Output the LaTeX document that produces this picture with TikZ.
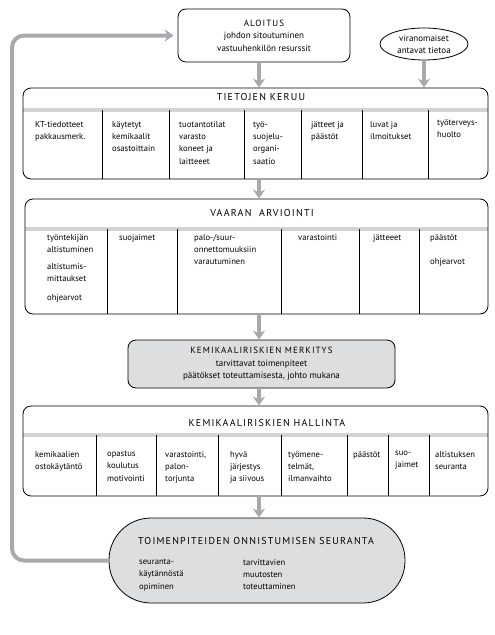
\documentclass[tikz,border=0pt]{standalone}
\usepackage{fontspec}
\setmainfont{PT Sans}
\newfontfamily\titlefont[LetterSpace=12]{PT Sans}
\usetikzlibrary{arrows.meta,shapes.geometric}
\definecolor{flowgray}{RGB}{167,169,172}
\definecolor{bargray}{RGB}{209,211,212}
\definecolor{boxgray}{RGB}{221,222,223}

\begin{document}
\begin{tikzpicture}
    [
        x=1pt, y=-1pt,
        frame/.style = {draw, shape=rectangle, rounded corners=8pt, line width=0.8pt, font=\fontsize{9}{12.5}\selectfont, align=center},
        oval/.style = {draw, shape=ellipse, line width=0.8pt, inner sep=0pt, font=\fontsize{9}{12}\selectfont, align=center},
        head/.style = {font=\fontsize{10}{12}\titlefont, inner sep=0pt},
        cell/.style = {anchor=north west, align=left, inner sep=0pt, font=\fontsize{8.6}{12.3}\selectfont},
        flow/.style = {draw=flowgray, line width=4pt, -{Stealth[length=9pt, width=12pt, inset=3pt]}},
        bar/.style = {draw=bargray, line width=4pt},
        rule/.style = {draw, line width=0.8pt},
    ]

    \useasboundingbox (0,0) rectangle (495,635);

    \coordinate (spine) at (259,0);
    \coordinate (loop) at (12,0);

    \node[frame, minimum width=172pt, minimum height=53pt] (aloitus) at (264,35.5)
        {{\titlefont ALOITUS}\\johdon sitoutuminen\\vastuuhenkilön resurssit};
    \node[oval, minimum width=88pt, minimum height=32pt] (viranomaiset) at (424,44)
        {viranomaiset\\antavat tietoa};

    \draw[bar] (23,110) -- (488,110);
    \node[frame, minimum width=465pt, minimum height=91pt] (keruu) at (255.5,133.5) {};
    \node[head] (keruutitle) at (261,97) {TIETOJEN KERUU};
    \draw[rule] (102,110) -- (102,179) (169,110) -- (169,179) (244,110) -- (244,179)
        (301,110) -- (301,179) (362,110) -- (362,179) (428,110) -- (428,179);
    \node[cell] (k1) at (35,121) {KT-tiedotteet\\pakkausmerk.};
    \node[cell] (k2) at (112,121) {käytetyt\\kemikaalit\\osastoittain};
    \node[cell] (k3) at (179,121) {tuotantotilat\\varasto\\koneet ja\\laitteeet};
    \node[cell] (k4) at (253,121) {työ-\\suojelu-\\organi-\\saatio};
    \node[cell] (k5) at (311,121) {jätteet ja\\päästöt};
    \node[cell] (k6) at (370,121) {luvat ja\\ilmoitukset};
    \node[cell] (k7) at (437,119) {työterveys-\\huolto};

    \draw[bar] (25,229) -- (488,229);
    \node[frame, minimum width=463pt, minimum height=115pt] (vaara) at (256.5,256.5) {};
    \node[head] (vaaratitle) at (262,213) {VAARAN\ \ ARVIOINTI};
    \draw[rule] (107,229) -- (107,314) (177,229) -- (177,314) (281,229) -- (281,314)
        (359,229) -- (359,314) (419,229) -- (419,314);
    \node[cell] (v1) at (47,234) {työntekijän\\altistuminen};
    \node[cell] (v2) at (47,263) {altistumis-\\mittaukset};
    \node[cell] (v3) at (47,294) {ohjearvot};
    \node[cell] (v4) at (119,234) {suojaimet};
    \node[cell] (v5) at (194,234) {palo-/suur-\\onnettomuuksiin\\varautuminen};
    \node[cell] (v6) at (298,234) {varastointi};
    \node[cell] (v7) at (373,234) {jätteeet};
    \node[cell] (v8) at (430,234) {päästöt};
    \node[cell] (v9) at (430,258) {ohjearvot};

    \node[frame, fill=boxgray, minimum width=267pt, minimum height=48pt] (merkitys) at (261.5,364)
        {{\titlefont KEMIKAALIRISKIEN MERKITYS}\\tarvittavat toimenpiteet\\päätökset toteuttamisesta, johto mukana};

    \draw[bar] (23,435) -- (488,435);
    \node[frame, minimum width=465pt, minimum height=90pt] (hallinta) at (255.5,451) {};
    \node[head] (hallintatitle) at (267,423) {KEMIKAALIRISKIEN HALLINTA};
    \draw[rule] (96,435) -- (96,496) (156,435) -- (156,496) (218,435) -- (218,496)
        (281,435) -- (281,496) (347,435) -- (347,496) (388,435) -- (388,496) (429,435) -- (429,496);
    \node[cell] (h1) at (35,451) {kemikaalien\\ostokäytäntö};
    \node[cell] (h2) at (107,451) {opastus\\koulutus\\motivointi};
    \node[cell] (h3) at (165,451) {varastointi,\\palon-\\torjunta};
    \node[cell] (h4) at (230,451) {hyvä\\järjestys\\ja siivous};
    \node[cell] (h5) at (288,451) {työmene-\\telmät,\\ilmanvaihto};
    \node[cell] (h6) at (353,451) {päästöt};
    \node[cell] (h7) at (395,451) {suo-\\jaimet};
    \node[cell] (h8) at (435,451) {altistuksen\\seuranta};

    \node[frame, fill=boxgray, rounded corners=42pt, minimum width=296pt, minimum height=85pt] (seuranta) at (257,560.5) {};
    \node[head, anchor=west] (seurantatitle) at (138,541) {TOIMENPITEIDEN ONNISTUMISEN SEURANTA};
    \node[cell] (s1) at (139,559) {seuranta-\\käytännöstä\\opiminen};
    \node[cell] (s2) at (243,559) {tarvittavien\\muutosten\\toteuttaminen};

    \draw[flow] (spine |- aloitus.south) -- (spine |- keruu.north);
    \draw[flow] (viranomaiset.south) -- (viranomaiset.south |- keruu.north);
    \draw[flow] (spine |- keruu.south) -- (spine |- vaara.north);
    \draw[flow] (spine |- vaara.south) -- (spine |- merkitys.north);
    \draw[flow] (spine |- merkitys.south) -- (spine |- hallinta.north);
    \draw[flow] (spine |- hallinta.south) -- (spine |- seuranta.north);
    \draw[flow, rounded corners=12pt, shorten >=4pt] (seuranta.west) -| (loop |- aloitus.west) -- (aloitus.west);
\end{tikzpicture}
\end{document}
